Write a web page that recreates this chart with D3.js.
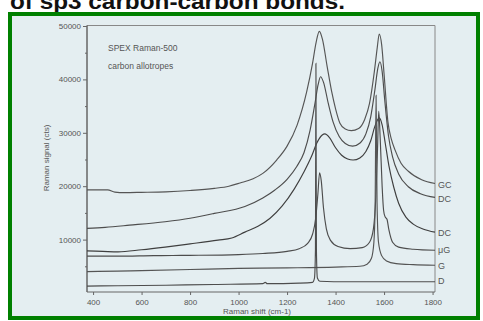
<!DOCTYPE html>
<html><head><meta charset="utf-8">
<script src="https://cdn.jsdelivr.net/npm/d3@7"></script>
<style>html,body{margin:0;padding:0;background:#fff;overflow:hidden}</style>
</head><body>
<svg id="c" width="483" height="321"></svg>
<script>
// ---- data (Raman shift cm-1, counts) ----
const xTicks = [400, 600, 800, 1000, 1200, 1400, 1600, 1800];
const yTicks = [10000, 20000, 30000, 40000, 50000];
const seriesLabels = ["GC", "DC", "DC", "\u03bcG", "G", "D"];
const gc = [[375,19300],[460,19300],[490,18900],[530,18800],[600,18850],[700,18950],[800,19200],[900,19600],[960,20000],[1006,20600],[1060,21400],[1100,22400],[1157,24900],[1200,27500],[1241,31400],[1281,37700],[1305,43000],[1320,47000],[1333,49000],[1346,47500],[1365,42500],[1384,37700],[1400,34500],[1418,31800],[1440,30700],[1465,30400],[1495,30800],[1520,32500],[1540,35500],[1560,41500],[1572,46000],[1580,48500],[1590,46500],[1600,41000],[1616,32000],[1630,28800],[1645,26800],[1670,24300],[1700,22800],[1755,21200],[1810,20500]];
const dc1 = [[375,12100],[450,12300],[550,12700],[697,13350],[800,14000],[900,14900],[1026,16200],[1100,17800],[1150,19300],[1200,21300],[1240,23700],[1270,26300],[1295,30500],[1315,35500],[1328,39000],[1338,40500],[1350,39500],[1370,35500],[1390,32000],[1415,29300],[1440,28000],[1470,27500],[1501,28100],[1525,29800],[1545,33000],[1562,38000],[1574,42000],[1583,43300],[1592,41500],[1603,36000],[1618,29500],[1635,25500],[1660,22300],[1700,19900],[1750,18600],[1810,17900]];
const dc2 = [[375,7900],[440,7800],[503,7700],[600,8100],[697,8600],[800,9200],[915,9900],[972,10300],[1026,11400],[1080,12500],[1130,14000],[1180,16300],[1230,19500],[1270,22700],[1300,25500],[1325,28300],[1345,29600],[1356,29800],[1375,29100],[1400,27200],[1425,25800],[1450,25100],[1472,24900],[1500,25300],[1525,26500],[1545,28500],[1562,31200],[1580,32800],[1592,31500],[1605,28000],[1620,23800],[1640,19800],[1660,16800],[1690,14200],[1720,12900],[1760,12000],[1810,11400]];
const ug = [[375,6900],[500,6900],[650,7000],[800,7050],[1000,7200],[1100,7400],[1200,7800],[1250,8300],[1285,9300],[1305,11000],[1318,14000],[1327,18500],[1334,22500],[1341,21000],[1350,16000],[1362,12000],[1380,9800],[1410,8700],[1460,8300],[1510,8500],[1540,9500],[1556,12000],[1566,18000],[1573,27000],[1578,34000],[1584,29000],[1592,20000],[1598,15500],[1604,14300],[1612,13800],[1620,11800],[1635,9500],[1660,8600],[1720,8200],[1810,8000]];
const gr = [[375,4000],[500,4100],[600,4200],[800,4400],[1000,4600],[1200,4700],[1400,4850],[1500,5000],[1530,5400],[1548,6500],[1558,9500],[1563,16000],[1567,37000],[1571,17000],[1577,9500],[1590,7000],[1610,6000],[1650,5500],[1720,5300],[1810,5200]];
const dia = [[375,1300],[500,1350],[700,1450],[900,1600],[1100,1750],[1110,2000],[1118,1750],[1250,1850],[1305,2000],[1313,2800],[1317,8000],[1319,43000],[1321,8000],[1325,2800],[1335,2200],[1450,2100],[1810,2100]];
const labelValues = [20200, 17600, 11200, 8050, 5050, 2250];

const svg = d3.select("#c");
// heading text (cut off at top, as in the source page)
svg.append("text").attr("x", 10).attr("y", 8.5)
  .attr("font-family", "Liberation Sans, Arial, sans-serif").attr("font-size", 22).attr("font-weight", "bold")
  .attr("textLength", 335).attr("lengthAdjust", "spacingAndGlyphs")
  .attr("fill", "#111").text("of sp3 carbon-carbon bonds.");
// framed panel
svg.append("rect").attr("x", 10).attr("y", 14).attr("width", 468).attr("height", 304)
  .attr("fill", "#e4eef1").attr("stroke", "#008000").attr("stroke-width", 4);

const x = d3.scaleLinear().domain([375, 1810]).range([87, 435]);
const y = d3.scaleLinear().domain([0, 50000]).range([293, 26]);
const font = "Liberation Sans, Arial, sans-serif";
const axCol = "#666";

// plot box top/right
svg.append("line").attr("x1", 87).attr("x2", 435).attr("y1", 25.5).attr("y2", 25.5).attr("stroke", "#888").attr("stroke-width", 1);
svg.append("line").attr("x1", 435).attr("x2", 435).attr("y1", 25.5).attr("y2", 292).attr("stroke", "#888").attr("stroke-width", 1);

// y axis
const ya = svg.append("g").attr("transform", "translate(87,0)")
  .call(d3.axisLeft(y).tickValues(yTicks).tickSize(4).tickFormat(d3.format("d")));
ya.append("g").call(d3.axisLeft(y).tickValues([5000,15000,25000,35000,45000]).tickSize(2).tickFormat(""));
ya.selectAll(".domain").attr("d", "M0,25.5V292");
// x axis
const xa = svg.append("g").attr("transform", "translate(0,292)")
  .call(d3.axisBottom(x).tickValues(xTicks).tickSize(3).tickFormat(d3.format("d")));
xa.selectAll(".domain").attr("d", "M87,0H435");
[ya, xa].forEach(g => {
  g.selectAll("path,line").attr("stroke", axCol).attr("stroke-width", 1);
  g.selectAll("text").attr("font-family", font).attr("font-size", 8).attr("fill", "#555");
});
xa.selectAll("text").attr("dy", "0.85em");
ya.selectAll("text").attr("x", -6);

// curves
const line = d3.line().x(d => x(d[0])).y(d => y(d[1])).curve(d3.curveMonotoneX);
const all = [gc, dc1, dc2, ug, gr, dia];
const strokes = ["#555", "#4d4d4d", "#3f3f3f", "#4d4d4d", "#555", "#4d4d4d"];
svg.append("g").selectAll("path").data(all).join("path")
  .attr("d", line).attr("fill", "none")
  .attr("stroke", (d, i) => strokes[i]).attr("stroke-width", 1.15);

// right-side labels
svg.append("g").selectAll("text").data(seriesLabels).join("text")
  .attr("x", 438).attr("y", (d, i) => y(labelValues[i])).attr("dy", "0.35em")
  .attr("font-family", font).attr("font-size", 9).attr("fill", "#555").text(d => d);

// annotation
svg.append("text").attr("x", 108).attr("y", 51).attr("font-family", font).attr("font-size", 8.5).attr("fill", "#555").text("SPEX Raman-500");
svg.append("text").attr("x", 108).attr("y", 69).attr("font-family", font).attr("font-size", 8.5).attr("fill", "#555").text("carbon allotropes");

// axis titles
svg.append("text").attr("x", 257).attr("y", 314).attr("text-anchor", "middle")
  .attr("font-family", font).attr("font-size", 8).attr("fill", "#555").text("Raman shift (cm-1)");
svg.append("text").attr("transform", "translate(49,158) rotate(-90)").attr("text-anchor", "middle")
  .attr("font-family", font).attr("font-size", 8).attr("fill", "#555").text("Raman signal (cts)");
</script>
</body></html>
